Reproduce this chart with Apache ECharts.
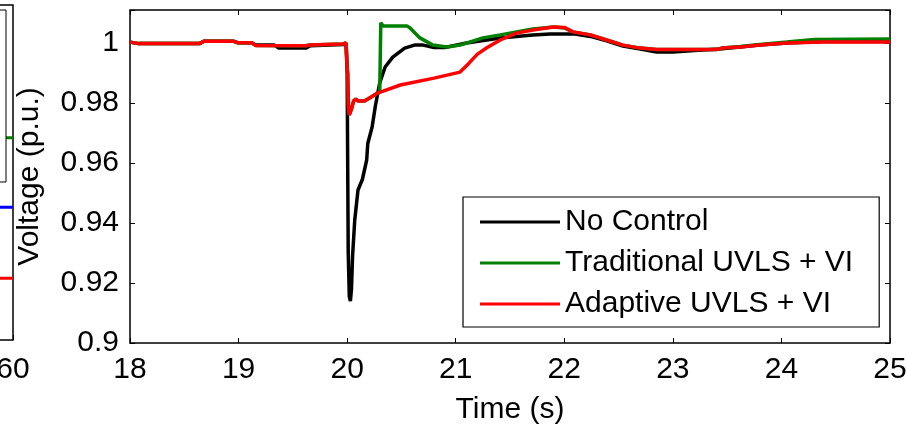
<!DOCTYPE html>
<html>
<head>
<meta charset="utf-8">
<script src="https://cdn.jsdelivr.net/npm/echarts@6/dist/echarts.min.js"></script>
<style>
  html, body { margin: 0; padding: 0; background: #fff; }
  #chart { width: 907px; height: 425px; }
</style>
</head>
<body>
<div id="chart"></div>
<script>
// Bus voltage after the disturbance at t = 20 s, three control strategies
const xTicks = [18, 19, 20, 21, 22, 23, 24, 25];
const yTicks = [0.9, 0.92, 0.94, 0.96, 0.98, 1];

const tNoControl = [18.0, 18.08, 18.64, 18.68, 18.95, 18.99, 19.12, 19.16, 19.33, 19.37, 19.62, 19.66, 19.97, 19.99,
  20.0, 20.01, 20.02, 20.03, 20.04, 20.05, 20.07, 20.10, 20.14, 20.18, 20.19, 20.23, 20.26, 20.30, 20.35, 20.42,
  20.53, 20.62, 20.70, 20.80, 20.90, 21.10, 21.41, 21.71, 21.87, 22.10, 22.24, 22.39, 22.54, 22.70, 22.85, 23.0,
  23.2, 23.43, 23.62, 23.8, 24.05, 24.38, 25.0];
const vNoControl = [1.0003, 0.9998, 0.9998, 1.0006, 1.0006, 1.0001, 1.0001, 0.9993, 0.9993, 0.9983, 0.9983, 0.9991, 0.9995, 1.0,
  0.99, 0.93, 0.9155, 0.914, 0.918, 0.929, 0.941, 0.951, 0.9545, 0.961, 0.9665, 0.972, 0.979, 0.9867, 0.992, 0.9953,
  0.9983, 0.9993, 0.9993, 0.9985, 0.9985, 1.0, 1.0017, 1.0027, 1.003, 1.003, 1.0022, 1.0007, 0.999, 0.998, 0.997, 0.997,
  0.9975, 0.998, 0.9987, 0.9993, 1.0, 1.0005, 1.0005];

const tTraditional = [18.0, 18.08, 18.64, 18.68, 18.95, 18.99, 19.12, 19.16, 19.62, 19.66, 19.96, 19.99,
  20.0, 20.005, 20.012, 20.02, 20.04, 20.06, 20.08, 20.10, 20.16, 20.20, 20.28, 20.30, 20.31, 20.33, 20.55, 20.58,
  20.67, 20.79, 20.92, 21.04, 21.25, 21.41, 21.56, 21.71, 21.9, 22.0, 22.08, 22.24, 22.39, 22.54, 22.70, 22.85,
  23.4, 23.45, 23.62, 23.8, 24.05, 24.3, 25.0];
const vTraditional = [1.0003, 0.9998, 0.9998, 1.0006, 1.0006, 1.0001, 1.0001, 0.9992, 0.9991, 0.9993, 0.9997, 1.0,
  0.992, 0.990, 0.979, 0.976, 0.978, 0.9807, 0.9813, 0.9807, 0.9807, 0.9815, 0.9833, 0.9837, 1.0067, 1.0057, 1.0057, 1.005,
  1.0017, 0.9993, 0.9987, 0.9993, 1.0017, 1.0027, 1.0037, 1.0047, 1.0053, 1.005, 1.0037, 1.0027, 1.001, 0.9993, 0.9983, 0.9978,
  0.9978, 0.9983, 0.9988, 0.9995, 1.0003, 1.0012, 1.0013];

const tAdaptive = [18.0, 18.08, 18.64, 18.68, 18.95, 18.99, 19.12, 19.16, 19.62, 19.66, 19.96, 19.99,
  20.0, 20.005, 20.012, 20.02, 20.04, 20.06, 20.08, 20.10, 20.16, 20.20, 20.28, 20.49, 20.8, 21.04, 21.12,
  21.2, 21.29, 21.41, 21.56, 21.71, 21.9, 22.0, 22.08, 22.24, 22.39, 22.54, 22.70, 22.85, 23.4, 23.45,
  23.62, 23.8, 24.05, 24.38, 25.0];
const vAdaptive = [1.0003, 0.9998, 0.9998, 1.0006, 1.0006, 1.0001, 1.0001, 0.9992, 0.9991, 0.9993, 0.9997, 1.0,
  0.992, 0.990, 0.979, 0.976, 0.978, 0.9807, 0.9813, 0.9807, 0.9807, 0.9815, 0.9833, 0.986, 0.9883, 0.9903, 0.9932,
  0.9963, 0.9985, 1.001, 1.0033, 1.0043, 1.0053, 1.0052, 1.0037, 1.0027, 1.001, 0.9993, 0.9983, 0.9978, 0.9978, 0.9983,
  0.9987, 0.9993, 1.0, 1.0003, 1.0003];

// Right end of the neighbouring panel (only its last stretch is on the page)
const leftPanelX = [0, 60];
const leftGreen = [1.51, 1.51];
const leftBlue = [0.99, 0.99];
const leftRed = [0.46, 0.46];

const seriesNames = ['No Control', 'Traditional UVLS + VI', 'Adaptive UVLS + VI'];
const seriesColors = ['#000000', '#008000', '#ff0000'];

const FONT = 'Liberation Sans, Arial, Helvetica, sans-serif';
const zip = (xs, ys) => xs.map((x, i) => [x, ys[i]]);

const tickStyle = { show: true, inside: true, length: 5, lineStyle: { color: '#000', width: 1 } };
const yFmt = v => {
  const k = v / 0.02;
  if (Math.abs(k - Math.round(k)) > 1e-6) return '';
  return String(+v.toFixed(2));
};
const leftXFmt = v => (v === 60 ? '60' : '');

const chart = echarts.init(document.getElementById('chart'), null, { renderer: 'canvas' });
chart.setOption({
  animation: false,
  backgroundColor: '#fff',
  grid: [
    { left: 130, right: 17, top: 10, bottom: 82, show: true, borderColor: '#000', borderWidth: 1.5,
      backgroundColor: '#fff', outerBoundsMode: 'none', containLabel: false },
    { left: -300, right: 894, top: 5, bottom: 85, show: true, borderColor: '#000', borderWidth: 1.5,
      outerBoundsMode: 'none', containLabel: false }
  ],
  xAxis: [
    {
      gridIndex: 0, type: 'value', min: xTicks[0], max: xTicks[xTicks.length - 1], interval: 1,
      axisLine: { show: false }, axisTick: tickStyle, splitLine: { show: false },
      axisLabel: { fontSize: 30, fontFamily: FONT, color: '#000', margin: 12 },
      name: 'Time (s)', nameLocation: 'middle', nameGap: 52,
      nameTextStyle: { fontSize: 30, fontFamily: FONT, color: '#000' }
    },
    {
      gridIndex: 0, type: 'value', position: 'top', min: xTicks[0], max: xTicks[xTicks.length - 1], interval: 1,
      axisLine: { show: false }, axisTick: tickStyle, splitLine: { show: false }, axisLabel: { show: false }
    },
    {
      gridIndex: 1, type: 'value', min: 0, max: 60, interval: 10,
      axisLine: { show: false }, axisTick: tickStyle, splitLine: { show: false },
      axisLabel: { fontSize: 30, fontFamily: FONT, color: '#000', margin: 15, formatter: leftXFmt }
    }
  ],
  yAxis: [
    {
      gridIndex: 0, type: 'value', min: yTicks[0], max: 1.011, interval: 0.02,
      axisLine: { show: false }, axisTick: tickStyle, splitLine: { show: false },
      axisLabel: { fontSize: 30, fontFamily: FONT, color: '#000', margin: 11, formatter: yFmt },
      name: 'Voltage (p.u.)', nameLocation: 'middle', nameGap: 85,
      nameTextStyle: { fontSize: 30, fontFamily: FONT, color: '#000' }
    },
    {
      gridIndex: 0, type: 'value', position: 'right', min: yTicks[0], max: 1.011, interval: 0.02,
      axisLine: { show: false }, axisTick: tickStyle, splitLine: { show: false }, axisLabel: { show: false }
    },
    {
      gridIndex: 1, type: 'value', position: 'right', min: 0, max: 2.5, interval: 1,
      axisLine: { show: false }, axisTick: tickStyle, splitLine: { show: false }, axisLabel: { show: false }
    }
  ],
  legend: {
    orient: 'vertical', left: 463, top: 197,
    padding: [10, 26, 8, 17], itemGap: 11,
    itemWidth: 80, itemHeight: 3, icon: 'rect',
    borderColor: '#000', borderWidth: 1.2, backgroundColor: '#fff',
    textStyle: { fontSize: 30, fontFamily: FONT, color: '#000' },
    data: seriesNames
  },
  graphic: [{
    type: 'rect', z: 100,
    shape: { x: -60, y: 10, width: 66, height: 172 },
    style: { fill: '#fff', stroke: '#000', lineWidth: 1 }
  }],
  series: [
    { name: seriesNames[0], type: 'line', xAxisIndex: 0, yAxisIndex: 0, data: zip(tNoControl, vNoControl),
      showSymbol: false, color: seriesColors[0], lineStyle: { width: 3.5, color: seriesColors[0] }, z: 3 },
    { name: seriesNames[1], type: 'line', xAxisIndex: 0, yAxisIndex: 0, data: zip(tTraditional, vTraditional),
      showSymbol: false, color: seriesColors[1], lineStyle: { width: 3.5, color: seriesColors[1] }, z: 4 },
    { name: seriesNames[2], type: 'line', xAxisIndex: 0, yAxisIndex: 0, data: zip(tAdaptive, vAdaptive),
      showSymbol: false, color: seriesColors[2], lineStyle: { width: 3.5, color: seriesColors[2] }, z: 5 },
    { type: 'line', xAxisIndex: 2, yAxisIndex: 2, data: zip(leftPanelX, leftGreen),
      showSymbol: false, lineStyle: { width: 3, color: '#008000' } },
    { type: 'line', xAxisIndex: 2, yAxisIndex: 2, data: zip(leftPanelX, leftBlue),
      showSymbol: false, lineStyle: { width: 3, color: '#0000ff' } },
    { type: 'line', xAxisIndex: 2, yAxisIndex: 2, data: zip(leftPanelX, leftRed),
      showSymbol: false, lineStyle: { width: 3, color: '#ff0000' } }
  ]
});
</script>
</body>
</html>
